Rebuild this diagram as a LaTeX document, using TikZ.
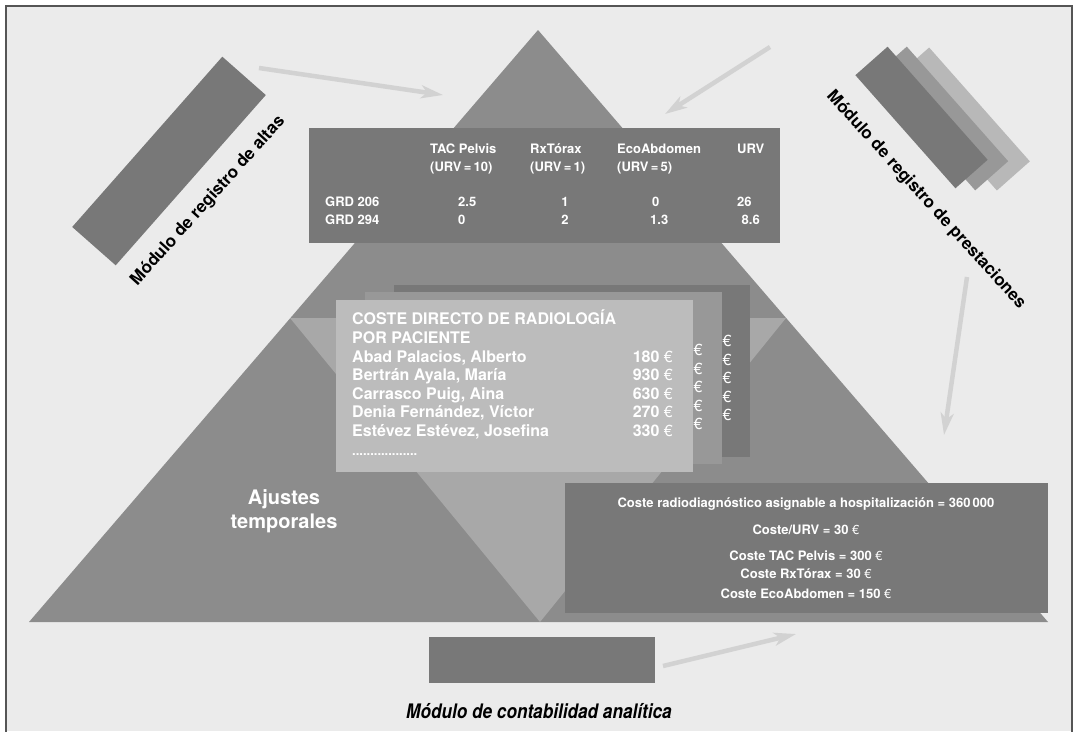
\documentclass[tikz,border=0pt]{standalone}
\usepackage{fontspec}
\setmainfont{TeX Gyre Heros}
\newfontfamily\condit[FakeStretch=0.86]{TeX Gyre Heros}
\usetikzlibrary{arrows.meta}
\definecolor{bgc}{RGB}{235,235,235}
\definecolor{framec}{RGB}{85,85,85}
\definecolor{tric}{RGB}{140,140,140}
\definecolor{invc}{RGB}{168,168,168}
\definecolor{darkc}{RGB}{120,120,120}
\definecolor{midc}{RGB}{152,152,152}
\definecolor{lightc}{RGB}{188,188,188}
\definecolor{backc}{RGB}{184,184,184}
\definecolor{arrowc}{RGB}{210,210,210}
\tikzset{
  boxnode/.style={inner sep=0pt, outer sep=0pt, anchor=north west},
  tw/.style={text=white, font=\fontsize{13}{15}\selectfont\bfseries, inner sep=0pt},
  lw/.style={text=white, font=\fontsize{16}{18}\selectfont\bfseries, inner sep=0pt, anchor=base west},
  le/.style={text=white, font=\fontsize{16}{18}\selectfont\bfseries, inner sep=0pt, anchor=base east},
  eu/.style={text=white, font=\fontsize{16}{18}\selectfont, inner sep=0pt, anchor=base},
  cw/.style={text=white, font=\fontsize{13}{15}\selectfont\bfseries, inner sep=0pt, anchor=base},
  modlabel/.style={text=black, font=\fontsize{17}{19}\selectfont\bfseries, inner sep=0pt},
  flow/.style={draw=arrowc, line width=4.5pt, -{Stealth[length=22pt,width=13pt,inset=6pt]}},
}
\newcommand{\eur}{{\mdseries €}}
\begin{document}
\begin{tikzpicture}[x=1pt,y=-1pt]
\useasboundingbox (0,0) rectangle (1075,731);
\fill[white] (0,0) rectangle (1075,731);
\fill[bgc] (6,6) rectangle (1072,731);
\draw[framec, line width=2pt] (6,734) -- (6,6) -- (1072,6) -- (1072,734);

% pyramid
\fill[tric] (538,30) -- (29,622) -- (1048,622) -- cycle;
\fill[invc] (290,318) -- (786,318) -- (540,622) -- cycle;

% table box
\node[boxnode, fill=darkc, minimum width=471pt, minimum height=115pt] (tbl) at (309,128) {};
\node[tw, anchor=base west] (h1a) at (430,153.3) {TAC Pelvis};
\node[tw, anchor=base west] (h1b) at (430,171) {(URV\,=\,10)};
\node[tw, anchor=base west] (h2a) at (530,153.3) {RxTórax};
\node[tw, anchor=base west] (h2b) at (530,171) {(URV\,=\,1)};
\node[tw, anchor=base west] (h3a) at (617,153.3) {EcoAbdomen};
\node[tw, anchor=base west] (h3b) at (617,171) {(URV\,=\,5)};
\node[tw, anchor=base west] (h4a) at (737,153.3) {URV};
\node[tw, anchor=base west] (r1) at (325,206) {GRD 206};
\node[tw, anchor=base west] (r2) at (325,224) {GRD 294};
\node[tw, anchor=base west] (v11) at (458,206) {2.5};
\node[tw, anchor=base west] (v21) at (458,224) {0};
\node[tw, anchor=base] (v12) at (565,206) {1};
\node[tw, anchor=base] (v22) at (565,224) {2};
\node[tw, anchor=base west] (v13) at (652,206) {0};
\node[tw, anchor=base west] (v23) at (650,224) {1.3};
\node[tw, anchor=base west] (v14) at (737,206) {26};
\node[tw, anchor=base east] (v24) at (760,224) {8.6};

% patient list boxes
\node[boxnode, fill=darkc, minimum width=356pt, minimum height=172pt] (lb) at (394,285) {};
\node[boxnode, fill=midc, minimum width=357pt, minimum height=172pt] (lm) at (365,292) {};
\node[boxnode, fill=lightc, minimum width=357pt, minimum height=172pt] (lf) at (336,300) {};
\foreach \k in {0,...,4} {
  \node[eu] (eb\k) at (727,346.5+18.5*\k) {€};
  \node[eu] (em\k) at (698,355.5+18.5*\k) {€};
}
\node[lw] (t1) at (352,324.5) {COSTE DIRECTO DE RADIOLOGÍA};
\node[lw] (t2) at (352,343.2) {POR PACIENTE};
\node[lw] (p1) at (352,362.3) {Abad Palacios, Alberto};
\node[lw] (p2) at (352,380.8) {Bertrán Ayala, María};
\node[lw] (p3) at (352,399.2) {Carrasco Puig, Aina};
\node[lw] (p4) at (352,417.7) {Denia Fernández, Víctor};
\node[lw] (p5) at (352,436.2) {Estévez Estévez, Josefina};
\node[lw] (p6) at (352,455) {\fontsize{13}{15}\selectfont ..................};
\node[le] (a1) at (673,362.3) {180 \eur};
\node[le] (a2) at (673,380.8) {930 \eur};
\node[le] (a3) at (673,399.2) {630 \eur};
\node[le] (a4) at (673,417.7) {270 \eur};
\node[le] (a5) at (673,436.2) {330 \eur};

% Ajustes temporales
\node[text=white, font=\fontsize{20}{24}\selectfont\bfseries, inner sep=0pt, anchor=base] (aj1) at (284,504) {Ajustes};
\node[text=white, font=\fontsize{20}{24}\selectfont\bfseries, inner sep=0pt, anchor=base] (aj2) at (284,528) {temporales};

% cost box
\node[boxnode, fill=darkc, minimum width=483pt, minimum height=130pt] (cb) at (565,483) {};
\node[cw] (c1) at (806,507.7) {Coste radiodiagnóstico asignable a hospitalización = 360\,000};
\node[cw] (c2) at (806,534) {Coste/URV = 30 \eur};
\node[cw] (c3) at (806,560) {Coste TAC Pelvis = 300 \eur};
\node[cw] (c4) at (806,578.5) {Coste RxTórax = 30 \eur};
\node[cw] (c5) at (806,598) {Coste EcoAbdomen = 150 \eur};

% module: altas
\node[fill=darkc, minimum width=227pt, minimum height=58pt, inner sep=0pt, rotate=48.6] (malt) at (169,161) {};
\node[modlabel, rotate=48] (lalt) at (208,201) {Módulo de registro de altas};

% module: prestaciones
\node[fill=backc, minimum width=152pt, minimum height=44pt, inner sep=0pt, rotate=-48.5] (mp3) at (963,119) {};
\node[fill=midc, minimum width=153pt, minimum height=44pt, inner sep=0pt, rotate=-48.5] (mp2) at (941,118.5) {};
\node[fill=darkc, minimum width=151pt, minimum height=43pt, inner sep=0pt, rotate=-48.5] (mp1) at (921.5,117.5) {};
\node[modlabel, rotate=-47.8] (lpre) at (926,200) {Módulo de registro de prestaciones};

% module: contabilidad
\node[boxnode, fill=darkc, minimum width=226pt, minimum height=46pt] (mcon) at (429,637) {};
\node[text=black, font=\condit\fontsize{20}{22}\selectfont\bfseries\itshape, inner sep=0pt, anchor=base] (lcon) at (539,718) {Módulo de contabilidad analítica};

% arrows
\coordinate (a1s) at (259,68);  \coordinate (a1e) at (443,95);
\coordinate (a2s) at (770,47);  \coordinate (a2e) at (665,114);
\coordinate (a3s) at (967,277); \coordinate (a3e) at (944,435);
\coordinate (a4s) at (663,666); \coordinate (a4e) at (796,634);
\draw[flow] (a1s) -- (a1e);
\draw[flow] (a2s) -- (a2e);
\draw[flow] (a3s) -- (a3e);
\draw[flow] (a4s) -- (a4e);
\end{tikzpicture}
\end{document}
